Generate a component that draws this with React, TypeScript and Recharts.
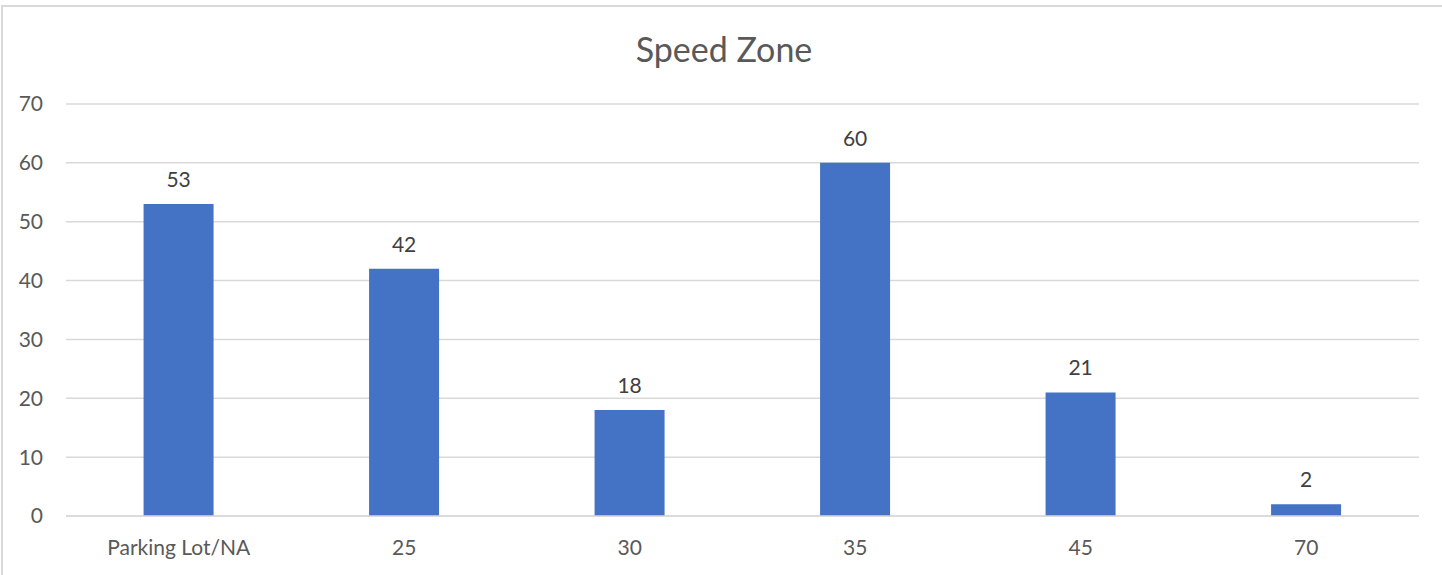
import { BarChart, Bar, XAxis, YAxis, CartesianGrid, LabelList } from "recharts";

const categories = ["Parking Lot/NA", "25", "30", "35", "45", "70"];
const counts = [53, 42, 18, 60, 21, 2];
const yTicks = [0, 10, 20, 30, 40, 50, 60, 70];

const data = categories.map((zone, i) => ({ zone, count: counts[i] }));

const FONT = "Lato, 'Open Sans', sans-serif";

export default function App() {
  return (
    <div style={{ position: "absolute", left: 0, top: 0, width: 1442, height: 575, overflow: "hidden", background: "#fff", fontFamily: FONT }}>
      {/* chart frame; right and bottom edges fall outside the crop */}
      <div style={{ position: "absolute", left: 1, top: 5, width: 1460, height: 600, border: "2px solid #d9d9d9", boxSizing: "border-box" }} />
      <div style={{ position: "absolute", left: 0, top: 28, width: 1448, textAlign: "center", fontSize: 34, color: "#595959" }}>
        Speed Zone
      </div>
      <div style={{ position: "absolute", left: 0, top: 0 }}>
        <BarChart width={1442} height={575} data={data} margin={{ top: 104, right: 23, left: 0, bottom: 29 }} barCategoryGap="34.4%">
          <CartesianGrid vertical={false} stroke="#d9d9d9" strokeWidth={1.5} />
          <XAxis
            dataKey="zone"
            axisLine={{ stroke: "#d9d9d9", strokeWidth: 1.5 }}
            tickLine={false}
            tickMargin={18}
            tick={{ fill: "#595959", fontSize: 21, fontFamily: FONT }}
          />
          <YAxis
            width={66}
            domain={[0, 70]}
            ticks={yTicks}
            axisLine={false}
            tickLine={false}
            tickMargin={17}
            tick={{ fill: "#595959", fontSize: 21, fontFamily: FONT }}
          />
          <Bar dataKey="count" fill="#4472c4" isAnimationActive={false}>
            <LabelList dataKey="count" position="top" offset={17} fill="#404040" fontSize={21} fontFamily={FONT} />
          </Bar>
        </BarChart>
      </div>
    </div>
  );
}
